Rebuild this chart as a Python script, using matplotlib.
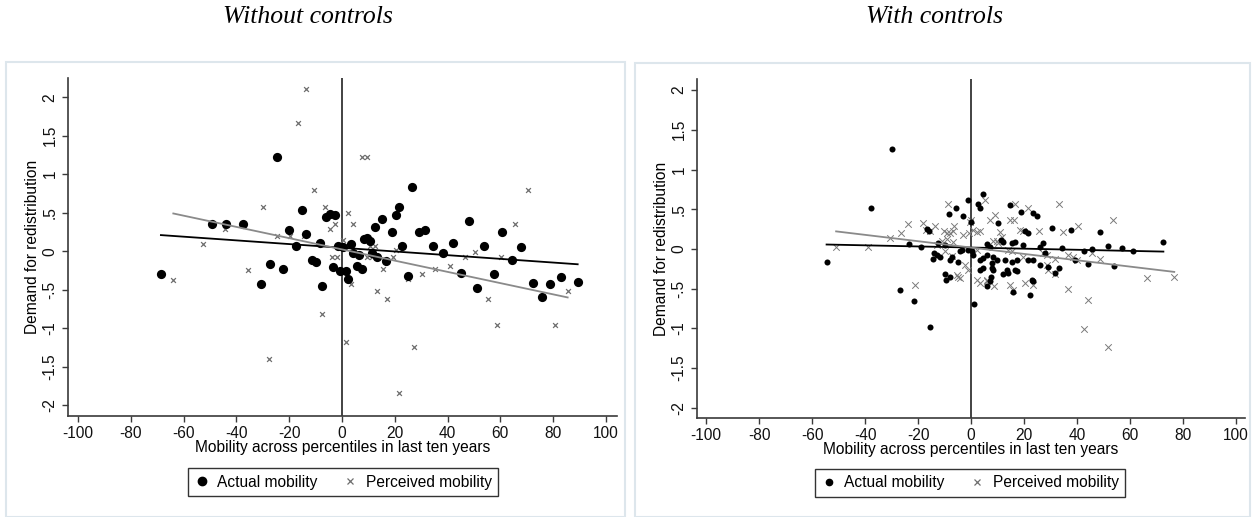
import numpy as np
import matplotlib
matplotlib.use("Agg")
import matplotlib.pyplot as plt
from matplotlib.patches import Rectangle
from matplotlib.lines import Line2D

plt.rcParams['font.family'] = ['Liberation Sans', 'DejaVu Sans']
plt.rcParams['axes.unicode_minus'] = False

# Left panel: no controls
left_actual_x = [-68.6, -49.4, -43.9, -37.5, -30.8, -27.2, -24.7, -22.5, -20.1, -17.3,
                 -15.0, -13.7, -11.4, -9.7, -8.5, -7.6, -6.1, -4.5, -2.5, -3.5,
                 -1.4, 0.3, -0.6, 1.4, 2.4, 3.4, 4.3, 5.6, 6.4, 7.4,
                 8.3, 9.6, 10.6, 11.2, 12.4, 13.3, 15.0, 16.8, 19.0, 20.5,
                 21.5, 22.8, 24.9, 26.6, 29.2, 31.4, 34.3, 38.1, 42.0, 45.0,
                 48.1, 51.0, 53.9, 57.7, 60.6, 64.4, 68.0, 72.2, 75.6, 79.0,
                 83.0, 89.3]
left_actual_y = [-0.30, 0.36, 0.36, 0.36, -0.42, -0.16, 1.23, -0.23, 0.27, 0.065,
                 0.53, 0.23, -0.12, -0.14, 0.11, -0.45, 0.44, 0.49, 0.47, -0.21,
                 0.065, 0.06, -0.26, -0.26, -0.36, 0.095, -0.02, -0.19, -0.05, -0.23,
                 0.16, 0.17, 0.13, -0.02, 0.32, -0.07, 0.42, -0.13, 0.25, 0.47,
                 0.58, 0.065, -0.32, 0.83, 0.25, 0.28, 0.07, -0.02, 0.11, -0.28,
                 0.39, -0.48, 0.065, -0.30, 0.25, -0.11, 0.05, -0.41, -0.60, -0.42,
                 -0.33, -0.40]
left_perc_x = [-63.9, -52.8, -44.3, -35.5, -30.0, -27.5, -24.7, -19.7, -16.5, -14.4,
               -13.7, -10.6, -7.6, -6.4, -4.6, -3.6, -2.5, -1.7, 0.2, 1.4,
               2.3, 3.4, 4.3, 7.6, 9.3, 9.5, 10.5, 11.4, 12.5, 13.4,
               15.4, 17.2, 19.3, 20.4, 21.5, 25.2, 27.4, 30.2, 35.4, 40.9,
               46.5, 50.5, 55.2, 58.6, 60.4, 65.5, 70.5, 80.6, 85.5]
left_perc_y = [-0.37, 0.095, 0.29, -0.24, 0.58, -1.40, 0.20, 0.20, 1.67, 0.20,
               2.11, 0.79, -0.81, 0.58, 0.29, -0.08, 0.36, -0.08, 0.14, -1.18,
               0.50, -0.43, 0.36, 1.23, 1.23, -0.08, 0.07, -0.08, 0.065, -0.51,
               -0.23, -0.62, -0.08, 0.02, -1.84, -0.36, -1.25, -0.30, -0.23, -0.19,
               -0.08, -0.01, -0.62, -0.96, -0.08, 0.36, 0.79, -0.96, -0.52]
# linear fits (intercept, slope)
left_fit_actual = (0.045, -0.0024)
left_fit_perc = (0.024, -0.0073)

# Right panel: with controls
right_actual_x = [-54.5, -37.8, -29.8, -26.8, -23.3, -21.4, -18.9, -16.7, -15.8, -15.6,
                  -14.5, -13.8, -12.9, -12.3, -11.7, -9.8, -9.8, -9.3, -8.3, -7.9,
                  -7.9, -7.3, -5.7, -4.8, -4.2, -3.3, -2.9, -1.0, -1.0, -0.1,
                  0.3, 0.9, 1.3, 2.5, 3.4, 3.4, 3.4, 4.6, 4.6, 4.6,
                  5.9, 5.9, 6.2, 7.5, 7.2, 7.2, 7.8, 7.8, 8.4, 8.4,
                  9.7, 10.3, 11.2, 12.2, 12.2, 12.8, 13.5, 14.1, 14.7, 15.4,
                  15.4, 16.0, 16.6, 16.6, 17.2, 17.5, 18.7, 19.7, 20.4, 21.6,
                  21.6, 22.3, 22.9, 23.5, 23.5, 23.5, 24.8, 26.0, 26.0, 27.3,
                  27.9, 29.2, 30.4, 31.7, 33.2, 34.2, 37.7, 39.2, 42.6, 44.3,
                  45.5, 48.7, 51.6, 54.1, 57.1, 61.0, 72.6]
right_actual_y = [-0.17, 0.52, 1.26, -0.52, 0.06, -0.66, 0.02, 0.25, 0.22, -0.98,
                  -0.13, -0.05, -0.08, 0.08, -0.10, 0.05, -0.31, -0.39, 0.44, -0.14,
                  -0.35, -0.10, 0.52, -0.16, -0.03, -0.01, 0.41, 0.61, -0.01, 0.34,
                  -0.03, -0.08, -0.69, 0.57, 0.51, -0.14, -0.26, 0.69, -0.12, -0.24,
                  0.06, -0.08, -0.47, -0.35, 0.03, -0.41, -0.18, -0.24, -0.10, -0.27,
                  -0.14, 0.32, 0.11, 0.09, -0.31, -0.14, -0.26, -0.30, 0.55, 0.07,
                  -0.16, -0.54, 0.09, -0.26, -0.14, -0.28, 0.46, 0.05, 0.22, 0.20,
                  -0.14, -0.58, -0.39, 0.45, -0.14, -0.41, 0.42, 0.03, -0.20, 0.07,
                  -0.05, -0.23, 0.26, -0.30, -0.24, 0.01, 0.24, -0.14, -0.03, -0.19,
                  0.00, 0.21, 0.04, -0.21, 0.01, -0.03, 0.09]
right_perc_x = [-50.9, -38.7, -30.4, -26.3, -23.8, -21.3, -18.3, -17.0, -15.5, -13.4,
                -12.9, -11.1, -10.3, -9.8, -9.2, -9.2, -8.5, -7.9, -7.3, -6.9,
                -6.9, -6.3, -5.4, -4.8, -4.2, -2.9, -2.3, -1.0, -0.6, -0.4,
                -0.1, 0.6, 2.1, 2.1, 2.1, 3.4, 3.4, 5.3, 5.9, 6.2,
                7.2, 8.4, 8.6, 9.1, 9.9, 10.3, 10.9, 11.6, 14.1, 14.7,
                14.7, 15.4, 16.0, 16.3, 16.6, 18.5, 19.7, 19.7, 20.4, 21.6,
                23.5, 25.7, 27.3, 28.6, 28.6, 29.2, 31.7, 31.7, 33.2, 34.6,
                36.5, 36.7, 38.6, 39.9, 40.5, 42.6, 44.2, 45.5, 48.7, 51.6,
                53.5, 66.3, 76.7]
right_perc_y = [0.02, 0.02, 0.14, 0.20, 0.31, -0.46, 0.32, 0.24, 0.22, 0.29,
                0.05, 0.10, 0.23, -0.03, 0.20, 0.13, 0.57, 0.20, -0.09, 0.22,
                0.09, 0.29, -0.33, -0.35, -0.37, 0.18, -0.20, -0.26, 0.20, 0.34,
                0.37, 0.24, 0.21, -0.01, -0.39, 0.22, -0.43, 0.61, -0.39, -0.41,
                0.36, 0.10, -0.47, 0.43, 0.10, 0.07, 0.21, 0.15, -0.01, 0.37,
                -0.45, -0.03, -0.52, 0.37, 0.57, 0.24, 0.23, -0.10, -0.43, 0.52,
                -0.45, 0.22, -0.05, -0.08, -0.20, -0.26, -0.13, -0.31, 0.56, 0.21,
                -0.51, -0.08, -0.10, -0.14, 0.29, -1.01, -0.64, -0.05, -0.13, -1.24,
                0.36, -0.37, -0.36]
right_fit_actual = (0.017, -0.0007)
right_fit_perc = (0.017, -0.0040)

x_ticks = [-100, -80, -60, -40, -20, 0, 20, 40, 60, 80, 100]
y_ticks = [-2, -1.5, -1, -0.5, 0, 0.5, 1, 1.5, 2]
y_tick_labels = ['-2', '-1.5', '-1', '-.5', '0', '.5', '1', '1.5', '2']

perc_grey = '#6e6e6e'
fit_grey = '#8a8a8a'
axis_col = '#3a3a3a'
fs = 11.2


def draw_panel(ax, ax_x, ax_y, px, py, fit_a, fit_p, dot_size, x_size, x_lw, x_col,
               xlim, ylim):
    ax.scatter(px, py, marker='x', s=x_size, color=x_col, linewidths=x_lw, zorder=2)
    ax.scatter(ax_x, ax_y, marker='o', s=dot_size, color='black', linewidths=0, zorder=3)

    # fitted lines over the range of each series
    xa = np.array([min(ax_x), max(ax_x)])
    ax.plot(xa, fit_a[0] + fit_a[1] * xa, color='black', lw=1.3, zorder=4)
    xp = np.array([min(px), max(px)])
    ax.plot(xp, fit_p[0] + fit_p[1] * xp, color=fit_grey, lw=1.3, zorder=4)

    ax.axvline(0, color='#222222', lw=1.2, zorder=1)

    ax.set_xlim(*xlim)
    ax.set_ylim(*ylim)
    ax.set_xticks(x_ticks)
    ax.set_yticks(y_ticks)
    ax.set_yticklabels(y_tick_labels, rotation=90, va='center')
    for side in ['top', 'right']:
        ax.spines[side].set_visible(False)
    for side in ['left', 'bottom']:
        ax.spines[side].set_color(axis_col)
        ax.spines[side].set_linewidth(1.2)
    ax.tick_params(axis='both', direction='out', length=4.5, width=1.0,
                   color=axis_col, labelsize=fs, labelcolor='#111111')
    ax.tick_params(axis='x', pad=3)
    ax.tick_params(axis='y', pad=3)
    ax.set_xlabel('Mobility across percentiles in last ten years', fontsize=fs, labelpad=-1)
    ax.set_ylabel('Demand for redistribution', fontsize=fs, labelpad=2)
    ax.set_facecolor('white')


fig = plt.figure(figsize=(12.6, 5.17), dpi=100)
W, H = 1260.0, 517.0

# light frames around each graph region
for (x0, y0, x1, y1) in [(6, 62, 625, 517), (635, 63, 1250, 517)]:
    fig.add_artist(Rectangle((x0 / W, 1 - y1 / H), (x1 - x0) / W, (y1 - y0) / H,
                             transform=fig.transFigure, fill=False,
                             edgecolor='#dde6ec', lw=1.5))

ax1 = fig.add_axes([68 / W, 1 - 416 / H, (617 - 68) / W, (416 - 78) / H])
ax2 = fig.add_axes([697 / W, 1 - 418 / H, (1245 - 697) / W, (418 - 79) / H])

draw_panel(ax1, left_actual_x, left_actual_y, left_perc_x, left_perc_y,
           left_fit_actual, left_fit_perc, 44, 12, 0.9, perc_grey,
           (-103.8, 104.2), (-2.14, 2.25))
draw_panel(ax2, right_actual_x, right_actual_y, right_perc_x, right_perc_y,
           right_fit_actual, right_fit_perc, 19, 22, 0.7, '#7a7a7a',
           (-103.4, 103.4), (-2.13, 2.14))

fig.text(308 / W, 1 - 17 / H, 'Without controls', ha='center', va='center',
         fontsize=18.5, style='italic', family='Liberation Serif')
fig.text(934 / W, 1 - 17 / H, 'With controls', ha='center', va='center',
         fontsize=18.5, style='italic', family='Liberation Serif')

# legends under each panel
for cx, cy, ms_dot, ms_x in [(343, 482, 6, 5), (970, 483, 4.5, 4.2)]:
    handles = [
        Line2D([], [], marker='o', ls='none', color='black', markersize=ms_dot),
        Line2D([], [], marker='x', ls='none', color=perc_grey, markersize=ms_x,
               markeredgewidth=0.9),
    ]
    leg = fig.legend(handles, ['Actual mobility', 'Perceived mobility'],
                     loc='center', bbox_to_anchor=(cx / W, 1 - cy / H), ncol=2,
                     fontsize=fs, frameon=True, fancybox=False,
                     handlelength=1.0, handletextpad=0.5, columnspacing=1.6,
                     borderpad=0.4)
    leg.get_frame().set_edgecolor('black')
    leg.get_frame().set_linewidth(1.0)

fig.savefig('out.png', dpi=100)
